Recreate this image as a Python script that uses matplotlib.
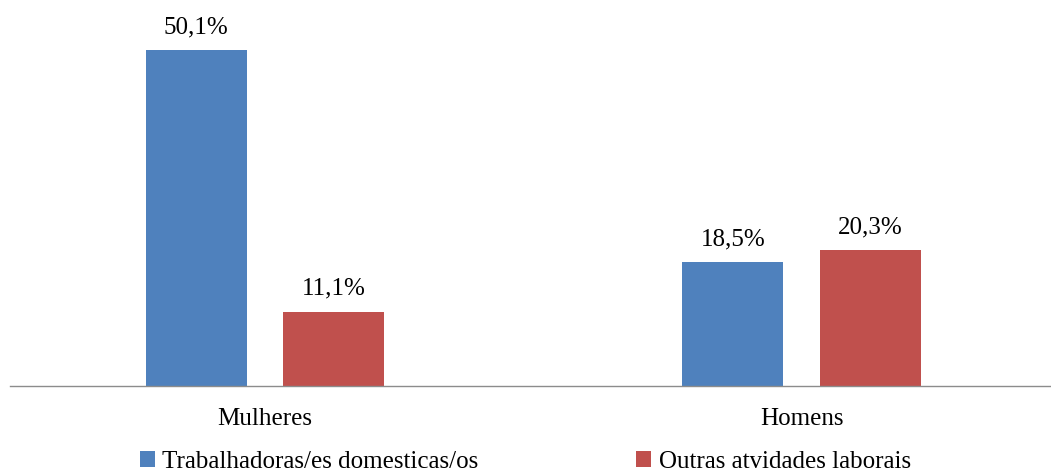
import matplotlib.pyplot as plt
import numpy as np

# dados do gráfico
categorias = ['Mulheres', 'Homens']
domesticas = [50.1, 18.5]
outras = [11.1, 20.3]
rotulos_dom = ['50,1%', '18,5%']
rotulos_out = ['11,1%', '20,3%']
series = ['Trabalhadoras/es domesticas/os', 'Outras atvidades laborais']

plt.rcParams['font.family'] = ['Liberation Serif', 'DejaVu Serif']

fig = plt.figure(figsize=(10.51, 4.75), dpi=100)
W, H = 1051, 475
# eixo: linha de base em y=386px, da esquerda 10px até a borda direita
ax = fig.add_axes([10 / W, (H - 386) / H, 1041 / W, 369 / H])

x = np.arange(len(categorias))
larg = 0.188
desl = 0.128
b1 = ax.bar(x - desl, domesticas, larg, color='#4F81BD', label=series[0])
b2 = ax.bar(x + desl, outras, larg, color='#C0504D', label=series[1])

ax.set_xlim(-0.4753, 1.465)
ax.set_ylim(0, 369 / 6.707)

fs = 18
for rect, txt in zip(list(b1) + list(b2), rotulos_dom + rotulos_out):
    ax.annotate(txt, (rect.get_x() + rect.get_width() / 2, rect.get_height()),
                xytext=(0, 12), textcoords='offset points',
                ha='center', va='baseline', fontsize=fs)

for i, cat in enumerate(categorias):
    ax.annotate(cat, (i, 0), xycoords=('data', 'axes fraction'),
                xytext=(0, -28), textcoords='offset points',
                ha='center', va='baseline', fontsize=fs)

for s in ['top', 'right', 'left']:
    ax.spines[s].set_visible(False)
ax.spines['bottom'].set_color('#8c8c8c')
ax.spines['bottom'].set_linewidth(1)
ax.set_xticks([])
ax.set_yticks([])

fig.legend(handles=[b1, b2], loc='upper left',
           bbox_to_anchor=(140 / W, (H - 451) / H), ncol=2, frameon=False,
           fontsize=fs, handlelength=0.6, handleheight=0.6, handletextpad=0.3,
           columnspacing=6.3, borderaxespad=0, borderpad=0)

fig.savefig('out.png', dpi=100)
